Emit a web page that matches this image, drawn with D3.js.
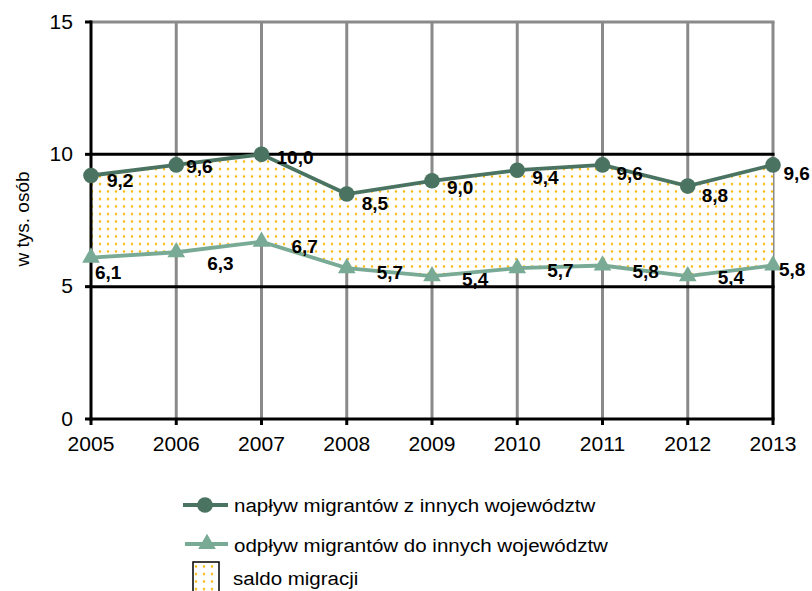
<!DOCTYPE html>
<html>
<head>
<meta charset="utf-8">
<script src="https://cdn.jsdelivr.net/npm/d3@7"></script>
<style>
  html, body { margin: 0; padding: 0; background: #fff; }
  svg { display: block; }
  text { font-family: "Liberation Sans", Arial, sans-serif; fill: #000; }
</style>
</head>
<body>
<svg id="chart" width="812" height="591"></svg>
<script>
// ---- data ----
const years = [2005, 2006, 2007, 2008, 2009, 2010, 2011, 2012, 2013];
const inflow = [9.2, 9.6, 10.0, 8.5, 9.0, 9.4, 9.6, 8.8, 9.6];
const outflow = [6.1, 6.3, 6.7, 5.7, 5.4, 5.7, 5.8, 5.4, 5.8];
const yTicks = [0, 5, 10, 15];
const yTitle = "w tys. osób";
const seriesNames = [
  "napływ migrantów z innych województw",
  "odpływ migrantów do innych województw",
  "saldo migracji"
];

// ---- label placement (offsets from the point, px) ----
const inflowLabelOffset = [[16,4.5],[10,1],[15,3],[15,9],[15,7],[15,7],[14,8],[14,9],[10.5,8]];
const outflowLabelOffset = [[4,14.5],[31,11],[30,5],[30,4],[30,3],[30,2],[30,5.5],[30,1],[6,3.5]];

const fmt = v => v.toFixed(1).replace(".", ",");

const svg = d3.select("#chart");
const x = d3.scalePoint().domain(years).range([91, 773]);
const y = d3.scaleLinear().domain([0, 15]).range([419, 22]);

const cDark = "#4a7361";
const cLight = "#78aa95";
const cGrid = "#8a8a8a";
const SX = 1.08;

// pattern
const defs = svg.append("defs");
const pat = defs.append("pattern").attr("id", "dots")
  .attr("patternUnits", "userSpaceOnUse").attr("width", 8).attr("height", 7.5);
pat.append("rect").attr("width", 8).attr("height", 7.5).attr("fill", "#fff");
pat.append("rect").attr("x", 2.5).attr("y", 3.5).attr("width", 3).attr("height", 1).attr("fill", "#fde08a");
pat.append("rect").attr("x", 3.5).attr("y", 2.5).attr("width", 1).attr("height", 3).attr("fill", "#fde08a");
pat.append("rect").attr("x", 3).attr("y", 3).attr("width", 2).attr("height", 2).attr("fill", "#f9b90a");

function txt(g, str, px, py, opts) {
  opts = opts || {};
  return g.append("text")
    .attr("transform", `translate(${px},${py}) scale(${opts.sx || SX},1)` + (opts.rot ? ` rotate(${opts.rot})` : ""))
    .attr("text-anchor", opts.anchor || "start")
    .attr("dy", "0.35em")
    .style("font-size", (opts.size || 19) + "px")
    .style("font-weight", opts.bold ? "bold" : "normal")
    .text(str);
}

// vertical gray gridlines
svg.append("g").selectAll("line").data(years.slice(1)).join("line")
  .attr("x1", d => x(d)).attr("x2", d => x(d))
  .attr("y1", y(15)).attr("y2", y(0))
  .attr("stroke", cGrid).attr("stroke-width", 3);

// top gray gridline at 15
svg.append("line")
  .attr("x1", x(years[0])).attr("x2", x(years[years.length - 1]) + 1.5)
  .attr("y1", y(15)).attr("y2", y(15))
  .attr("stroke", cGrid).attr("stroke-width", 3);

// black horizontal lines at 5, 10
svg.append("g").selectAll("line").data([5, 10]).join("line")
  .attr("x1", x(years[0])).attr("x2", x(years[years.length - 1]) + 1.5)
  .attr("y1", d => y(d)).attr("y2", d => y(d))
  .attr("stroke", "#000").attr("stroke-width", 3);

// area between series (saldo)
const areaGen = d3.area()
  .x((d, i) => x(years[i]))
  .y0((d, i) => y(outflow[i]))
  .y1((d, i) => y(inflow[i]));
svg.append("path").datum(years).attr("d", areaGen).attr("fill", "url(#dots)");

// right edge below outflow (black)
const last = years.length - 1;
svg.append("line")
  .attr("x1", x(years[last])).attr("x2", x(years[last]))
  .attr("y1", y(outflow[last])).attr("y2", y(0))
  .attr("stroke", "#000").attr("stroke-width", 3);

// axes (black)
svg.append("line").attr("x1", x(years[0])).attr("x2", x(years[0]))
  .attr("y1", y(15) - 1.5).attr("y2", y(0) + 1.5).attr("stroke", "#000").attr("stroke-width", 3);
svg.append("line").attr("x1", x(years[0]) - 1.5).attr("x2", x(years[last]) + 1.5)
  .attr("y1", y(0)).attr("y2", y(0)).attr("stroke", "#000").attr("stroke-width", 3);

// y ticks
svg.append("g").selectAll("line").data(yTicks).join("line")
  .attr("x1", x(years[0]) - 6).attr("x2", x(years[0]))
  .attr("y1", d => y(d)).attr("y2", d => y(d))
  .attr("stroke", "#000").attr("stroke-width", 3);
// x ticks
svg.append("g").selectAll("line").data(years).join("line")
  .attr("x1", d => x(d)).attr("x2", d => x(d))
  .attr("y1", y(0)).attr("y2", y(0) + 6)
  .attr("stroke", "#000").attr("stroke-width", 3);

const gText = svg.append("g");
yTicks.forEach(v => txt(gText, String(v), 73, y(v), { anchor: "end", size: 19.5 }));
years.forEach(yr => txt(gText, String(yr), x(yr), 444, { anchor: "middle", size: 19.5 }));
txt(gText, yTitle, 22, 219, { anchor: "middle", rot: -90, sx: 1 });

// lines
const lineGen = arr => d3.line().x((d, i) => x(years[i])).y((d, i) => y(arr[i]));
svg.append("path").datum(outflow).attr("d", lineGen(outflow))
  .attr("fill", "none").attr("stroke", cLight).attr("stroke-width", 3.8);
svg.append("path").datum(inflow).attr("d", lineGen(inflow))
  .attr("fill", "none").attr("stroke", cDark).attr("stroke-width", 3.8);

// markers
const tri = d3.symbol().type(d3.symbolTriangle).size(135);
svg.append("g").selectAll("path").data(outflow).join("path")
  .attr("d", tri)
  .attr("transform", (d, i) => `translate(${x(years[i])},${y(d)})`)
  .attr("fill", cLight);
svg.append("g").selectAll("circle").data(inflow).join("circle")
  .attr("cx", (d, i) => x(years[i])).attr("cy", d => y(d)).attr("r", 7.8)
  .attr("fill", cDark);

// data labels
const gLab = svg.append("g");
inflow.forEach((v, i) => {
  const o = inflowLabelOffset[i];
  txt(gLab, fmt(v), x(years[i]) + o[0], y(v) + o[1], { bold: true, size: 19, sx: 1.0 });
});
outflow.forEach((v, i) => {
  const o = outflowLabelOffset[i];
  txt(gLab, fmt(v), x(years[i]) + o[0], y(v) + o[1], { bold: true, size: 19, sx: 1.0 });
});

// legend
const lg = svg.append("g");
lg.append("line").attr("x1", 183).attr("x2", 228).attr("y1", 505).attr("y2", 505)
  .attr("stroke", cDark).attr("stroke-width", 3.8);
lg.append("circle").attr("cx", 205).attr("cy", 505).attr("r", 7.8).attr("fill", cDark);
txt(lg, seriesNames[0], 234, 505);

lg.append("line").attr("x1", 185).attr("x2", 228).attr("y1", 544).attr("y2", 544)
  .attr("stroke", cLight).attr("stroke-width", 3.8);
lg.append("path").attr("d", tri).attr("transform", "translate(207,544)").attr("fill", cLight);
txt(lg, seriesNames[1], 234, 545);

lg.append("rect").attr("x", 193).attr("y", 562).attr("width", 26).attr("height", 34)
  .attr("fill", "url(#dots)").attr("stroke", "#000").attr("stroke-width", 1.5);
txt(lg, seriesNames[2], 233, 578);
</script>
</body>
</html>
